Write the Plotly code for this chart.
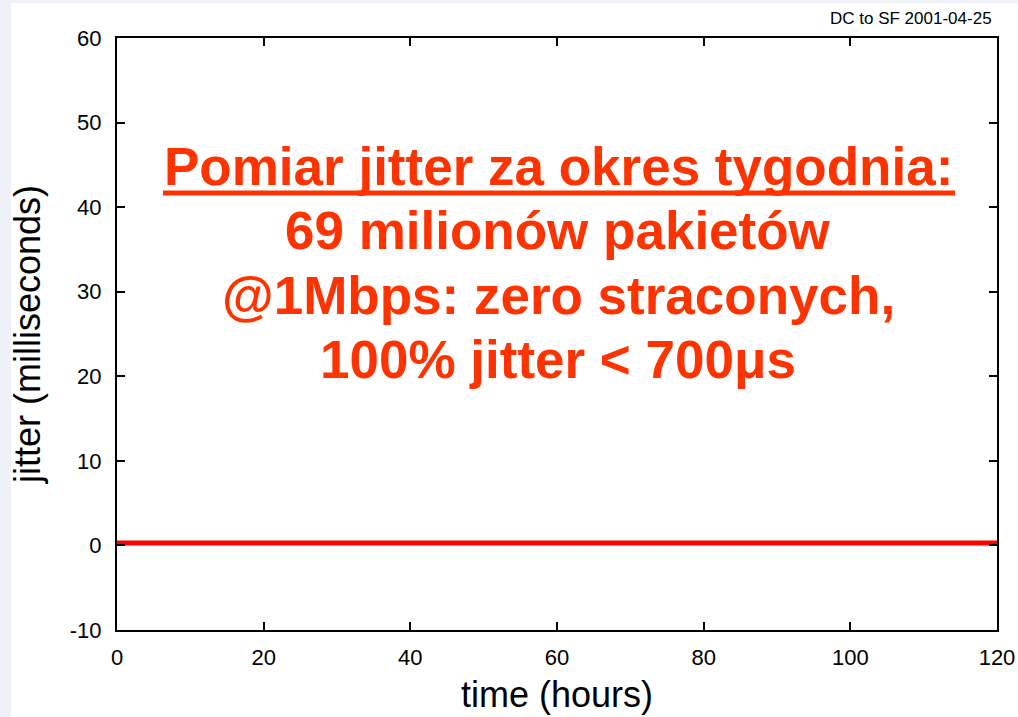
import plotly.graph_objects as go

# ---- data ----
time_hours = [0, 6, 12, 18, 24, 26.4, 26.6, 26.8, 33, 39, 45, 51, 57, 63, 69, 75, 81, 87, 93, 99, 105, 111, 117, 120]
jitter_ms = [0.3, 0.3, 0.3, 0.3, 0.3, 0.3, 0.4, 0.3, 0.3, 0.3, 0.3, 0.3, 0.3, 0.3, 0.3, 0.3, 0.3, 0.3, 0.3, 0.3, 0.3, 0.3, 0.3, 0.3]
x_ticks = [0, 20, 40, 60, 80, 100, 120]
y_ticks = [-10, 0, 10, 20, 30, 40, 50, 60]
y_tick_text = ["-10", "0", "10", "20", "30", "40", "50", "60"]
note_lines = [
    "Pomiar jitter za okres tygodnia:",
    "69 milionów pakietów",
    "@1Mbps: zero straconych,",
    "100% jitter < 700μs",
]
chart_title = "DC to SF 2001-04-25"
x_title = "time (hours)"
y_title = "jitter (milliseconds)"

W, H = 1018, 717
ML, MT = 117, 38
MR = W - 997
MB = H - 630
PW, PH = W - ML - MR, H - MT - MB


def px_x(px):
    return (px - ML) / PW


def px_y(py):
    return (H - MB - py) / PH


fig = go.Figure()
fig.add_trace(go.Scatter(x=time_hours, y=jitter_ms, mode="lines",
                         line=dict(color="#ff0000", width=5), showlegend=False))

axis_common = dict(showline=True, linecolor="black", linewidth=2, mirror="ticks",
                   ticks="inside", ticklen=8, tickwidth=2, tickcolor="black",
                   showgrid=False, zeroline=False, ticklabeloverflow="allow", automargin=False,
                   tickfont=dict(family="Liberation Sans, Arial", size=22, color="black"))

fig.update_xaxes(range=[0, 120], tickvals=x_ticks, ticklabelstandoff=7,
                 title=dict(text=x_title, font=dict(family="Liberation Sans, Arial", size=36, color="black"), standoff=12),
                 **axis_common)
fig.update_yaxes(range=[-10, 60], tickvals=y_ticks, ticktext=y_tick_text, ticklabelstandoff=9,
                 title=dict(text=y_title, font=dict(family="Liberation Sans, Arial", size=36, color="black"), standoff=18),
                 **axis_common)

note_font = dict(family="Liberation Sans, Arial", size=53, color="#ff3300", weight="bold")
centers = [166, 230, 295, 360]
for txt, cy in zip(note_lines, centers):
    fig.add_annotation(text=txt, xref="paper", yref="paper", x=px_x(558), y=px_y(cy),
                       xanchor="center", yanchor="middle", showarrow=False, font=note_font)

# underline of first line
fig.add_shape(type="line", xref="paper", yref="paper",
              x0=px_x(163), x1=px_x(955), y0=px_y(193), y1=px_y(193),
              line=dict(color="#ff3300", width=5))

fig.add_annotation(text=chart_title, xref="paper", yref="paper", x=px_x(994), y=px_y(18),
                   xanchor="right", yanchor="middle", showarrow=False,
                   font=dict(family="Liberation Sans, Arial", size=17, color="black"))

# white slide area over light border
fig.add_shape(type="rect", xref="paper", yref="paper", layer="below",
              x0=px_x(11), x1=px_x(W + 40), y0=px_y(3), y1=px_y(H + 40),
              line=dict(width=0), fillcolor="white")

fig.update_layout(width=W, height=H, margin=dict(l=ML, r=MR, t=MT, b=MB, autoexpand=False),
                  paper_bgcolor="#eef2f8", plot_bgcolor="white")

fig.write_html("out.html", config={"displayModeBar": False},
               post_script="document.body.style.margin='0';document.body.style.overflow='hidden';")
